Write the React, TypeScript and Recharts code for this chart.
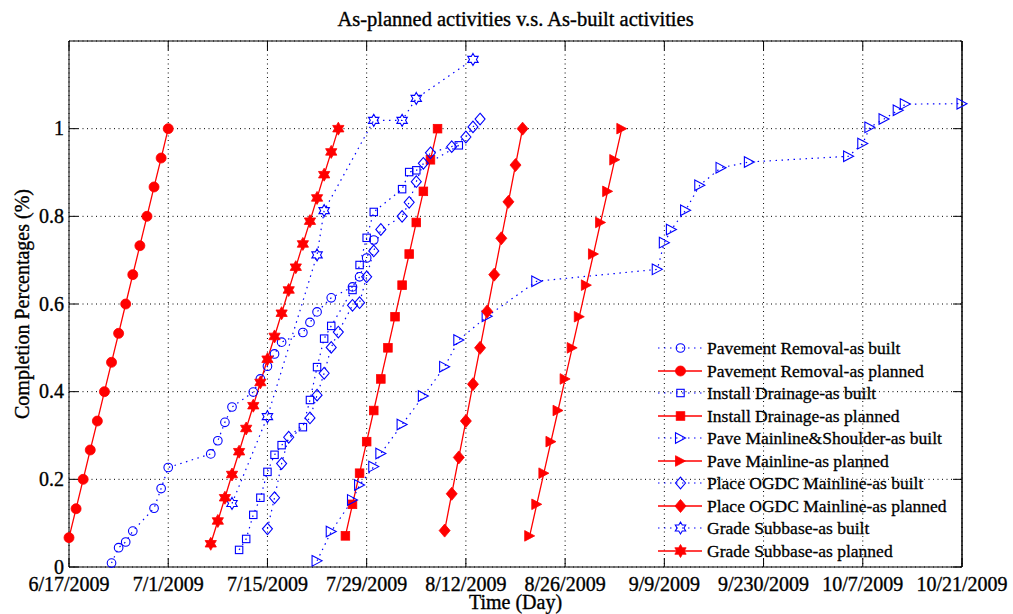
import { LineChart, Line, XAxis, YAxis, CartesianGrid, Legend } from "recharts"

const W = 1013
const H = 614
const MARGIN = { top: 11, right: 50, bottom: 7, left: 9 }
const Y_AXIS_W = 60
const X_AXIS_H = 40
const TOP_AXIS_H = 30
const PLOT_LEFT = MARGIN.left + Y_AXIS_W
const PLOT_RIGHT = W - MARGIN.right - 1
const PLOT_TOP = MARGIN.top + TOP_AXIS_H
const PLOT_BOTTOM = H - MARGIN.bottom - X_AXIS_H

const FONT = '"Liberation Serif", "Times New Roman", Times, serif'
const BLUE = "#0000ff"
const RED = "#ff0000"
// a hairline outline gives the serif text a little more weight
const TEXT_WEIGHT = { stroke: "#000", strokeWidth: 0.35 }

const TITLE = "As-planned activities v.s. As-built activities"

// x values are days counted from 6/17/2009
const dayTicks = [0, 14, 28, 42, 56, 70, 84, 98, 112, 126]
const dayLabels = [
  "6/17/2009",
  "7/1/2009",
  "7/15/2009",
  "7/29/2009",
  "8/12/2009",
  "8/26/2009",
  "9/9/2009",
  "9/230/2009",
  "10/7/2009",
  "10/21/2009",
]
const pctTicks = [0, 0.2, 0.4, 0.6, 0.8, 1]
const pctLabels = ["0", "0.2", "0.4", "0.6", "0.8", "1"]

// Pavement Removal
const pavementBuiltDays = [6, 7, 8, 9, 12, 13, 14, 20, 21, 22, 23, 26, 27, 28, 29, 30, 33, 34, 35, 37, 40, 41, 42, 43]
const pavementBuilt = [0.009, 0.044, 0.057, 0.082, 0.134, 0.179, 0.227, 0.258, 0.288, 0.33, 0.365, 0.399, 0.429, 0.458, 0.486, 0.513, 0.535, 0.558, 0.582, 0.614, 0.639, 0.662, 0.705, 0.746]
const pavementPlanDays = [0, 1, 2, 3, 4, 5, 6, 7, 8, 9, 10, 11, 12, 13, 14]
const pavementPlan = [0.067, 0.133, 0.2, 0.267, 0.333, 0.4, 0.467, 0.533, 0.6, 0.667, 0.733, 0.8, 0.867, 0.933, 1]

// Install Drainage
const drainageBuiltDays = [24, 25, 26, 27, 28, 29, 30, 33, 34, 35, 36, 37, 40, 41, 42, 43, 47, 48, 49, 55]
const drainageBuilt = [0.039, 0.064, 0.119, 0.158, 0.217, 0.256, 0.278, 0.319, 0.381, 0.456, 0.521, 0.55, 0.632, 0.689, 0.751, 0.81, 0.862, 0.901, 0.905, 0.962]
const drainagePlanDays = [39, 40, 41, 42, 43, 44, 45, 46, 47, 48, 49, 50, 51, 52]
const drainagePlan = [0.071, 0.143, 0.214, 0.286, 0.357, 0.429, 0.5, 0.571, 0.643, 0.714, 0.786, 0.857, 0.929, 1]

// Pave Mainline (& Shoulder)
const paveBuiltDays = [35, 37, 40, 41, 43, 44, 47, 50, 53, 55, 59, 66, 83, 84, 85, 87, 89, 92, 96, 110, 112, 113, 115, 117, 118, 126]
const paveBuilt = [0.014, 0.081, 0.153, 0.187, 0.229, 0.259, 0.325, 0.39, 0.457, 0.518, 0.572, 0.652, 0.679, 0.74, 0.77, 0.814, 0.871, 0.911, 0.924, 0.937, 0.966, 1.003, 1.022, 1.042, 1.056, 1.057]
const pavePlanDays = [65, 66, 67, 68, 69, 70, 71, 72, 73, 74, 75, 76, 77, 78]
const pavePlan = [0.071, 0.143, 0.214, 0.286, 0.357, 0.429, 0.5, 0.571, 0.643, 0.714, 0.786, 0.857, 0.929, 1]

// Place OGDC Mainline
const ogdcBuiltDays = [28, 29, 30, 31, 34, 35, 36, 37, 38, 40, 41, 42, 43, 44, 47, 48, 49, 50, 51, 54, 56, 57, 58]
const ogdcBuilt = [0.087, 0.158, 0.236, 0.296, 0.34, 0.392, 0.442, 0.501, 0.536, 0.597, 0.603, 0.662, 0.721, 0.77, 0.8, 0.832, 0.879, 0.921, 0.945, 0.959, 0.981, 1.004, 1.022]
const ogdcPlanDays = [53, 54, 55, 56, 57, 58, 59, 60, 61, 62, 63, 64]
const ogdcPlan = [0.083, 0.167, 0.25, 0.333, 0.417, 0.5, 0.583, 0.667, 0.75, 0.833, 0.917, 1]

// Grade Subbase
const subbaseBuiltDays = [23, 28, 35, 36, 43, 47, 49, 57]
const subbaseBuilt = [0.145, 0.343, 0.712, 0.813, 1.019, 1.019, 1.069, 1.158]
const subbasePlanDays = [20, 21, 22, 23, 24, 25, 26, 27, 28, 29, 30, 31, 32, 33, 34, 35, 36, 37, 38]
const subbasePlan = [0.053, 0.105, 0.158, 0.211, 0.263, 0.316, 0.368, 0.421, 0.474, 0.526, 0.579, 0.632, 0.684, 0.737, 0.789, 0.842, 0.895, 0.947, 1]

type Shape = "circle" | "square" | "triangle" | "diamond" | "hexagram"

const toPoints = (days: number[], vals: number[]) => days.map((day, i) => ({ day, v: vals[i] }))

const series = [
  { name: "Pavement Removal-as built", data: toPoints(pavementBuiltDays, pavementBuilt), shape: "circle", planned: false },
  { name: "Pavement Removal-as planned", data: toPoints(pavementPlanDays, pavementPlan), shape: "circle", planned: true },
  { name: "Install Drainage-as built", data: toPoints(drainageBuiltDays, drainageBuilt), shape: "square", planned: false },
  { name: "Install Drainage-as planned", data: toPoints(drainagePlanDays, drainagePlan), shape: "square", planned: true },
  { name: "Pave Mainline&Shoulder-as built", data: toPoints(paveBuiltDays, paveBuilt), shape: "triangle", planned: false },
  { name: "Pave Mainline-as planned", data: toPoints(pavePlanDays, pavePlan), shape: "triangle", planned: true },
  { name: "Place OGDC Mainline-as built", data: toPoints(ogdcBuiltDays, ogdcBuilt), shape: "diamond", planned: false },
  { name: "Place OGDC Mainline-as planned", data: toPoints(ogdcPlanDays, ogdcPlan), shape: "diamond", planned: true },
  { name: "Grade Subbase-as built", data: toPoints(subbaseBuiltDays, subbaseBuilt), shape: "hexagram", planned: false },
  { name: "Grade Subbase-as planned", data: toPoints(subbasePlanDays, subbasePlan), shape: "hexagram", planned: true },
] as { name: string; data: { day: number; v: number }[]; shape: Shape; planned: boolean }[]

// planned = filled red marker on a solid line, built = open blue marker on a dotted line
function Marker({ cx, cy, shape, filled }: { cx: number; cy: number; shape: Shape; filled: boolean }) {
  const color = filled ? RED : BLUE
  const common = {
    fill: filled ? color : "none",
    stroke: color,
    strokeWidth: filled ? 0.8 : 1.1,
  }
  if (cx == null || cy == null) return null

  if (shape === "circle") {
    return <circle cx={cx} cy={cy} r={filled ? 5 : 4.3} {...common} />
  }
  if (shape === "square") {
    const s = filled ? 4.3 : 3.7
    return <rect x={cx - s} y={cy - s} width={s * 2} height={s * 2} {...common} />
  }
  if (shape === "diamond") {
    const w = filled ? 5.5 : 5
    const h = filled ? 6.5 : 5.8
    return <polygon points={`${cx},${cy - h} ${cx + w},${cy} ${cx},${cy + h} ${cx - w},${cy}`} {...common} />
  }
  if (shape === "triangle") {
    return (
      <polygon
        points={`${cx - 5},${cy - 5.3} ${cx + 5},${cy} ${cx - 5},${cy + 5.3}`}
        {...common}
      />
    )
  }
  // six-pointed star
  const R = filled ? 6.5 : 6
  const r = R / Math.sqrt(3)
  const pts: string[] = []
  for (let k = 0; k < 12; k++) {
    const a = (-90 + k * 30) * (Math.PI / 180)
    const rad = k % 2 === 0 ? R : r
    pts.push(`${cx + rad * Math.cos(a)},${cy + rad * Math.sin(a)}`)
  }
  return <polygon points={pts.join(" ")} {...common} />
}

// tick marks point into the plot on both sides of the box, MATLAB style
function DayTick(props: any) {
  const { x, payload } = props
  const label = dayLabels[dayTicks.indexOf(payload.value)]
  return (
    <g>
      <line x1={x} x2={x} y1={PLOT_BOTTOM} y2={PLOT_BOTTOM - 9} stroke="#000" />
      <line x1={x} x2={x} y1={PLOT_TOP} y2={PLOT_TOP + 9} stroke="#000" />
      <text x={x} y={PLOT_BOTTOM + 24} textAnchor="middle" fontFamily={FONT} fontSize={20} fill="#000" {...TEXT_WEIGHT}>
        {label}
      </text>
    </g>
  )
}

function PctTick(props: any) {
  const { y, payload } = props
  const label = pctLabels[pctTicks.indexOf(payload.value)]
  return (
    <g>
      <line x1={PLOT_LEFT} x2={PLOT_LEFT + 9} y1={y} y2={y} stroke="#000" />
      <line x1={PLOT_RIGHT - 9} x2={PLOT_RIGHT} y1={y} y2={y} stroke="#000" />
      <text x={PLOT_LEFT - 5} y={y + 6.5} textAnchor="end" fontFamily={FONT} fontSize={20} fill="#000" {...TEXT_WEIGHT}>
        {label}
      </text>
    </g>
  )
}

function YTitle(props: any) {
  const { viewBox } = props
  const cy = viewBox.y + viewBox.height / 2
  const x = 29
  return (
    <text
      x={x}
      y={cy}
      transform={`rotate(-90, ${x}, ${cy})`}
      textAnchor="middle"
      fontFamily={FONT}
      fontSize={20}
      fill="#000"
      {...TEXT_WEIGHT}
    >
      Completion Percentages (%)
    </text>
  )
}

function LegendList() {
  return (
    <div style={{ fontFamily: FONT, fontSize: 17.5, color: "#000", WebkitTextStroke: "0.3px #000" }}>
      {series.map((s) => (
        <div key={s.name} style={{ display: "flex", alignItems: "center", height: 22.5 }}>
          <svg width={49} height={22} style={{ flex: "none", overflow: "visible" }}>
            <line
              x1={0}
              x2={44}
              y1={11}
              y2={11}
              stroke={s.planned ? RED : BLUE}
              strokeWidth={s.planned ? 1.3 : 1.2}
              strokeDasharray={s.planned ? undefined : "1.5 4.5"}
            />
            <Marker cx={22.5} cy={11} shape={s.shape} filled={s.planned} />
          </svg>
          <span style={{ whiteSpace: "nowrap", lineHeight: "22.5px" }}>{s.name}</span>
        </div>
      ))}
    </div>
  )
}

export default function App() {
  return (
    <div style={{ position: "absolute", left: 0, top: 0, background: "#fff" }}>
      <LineChart width={W} height={H} margin={MARGIN}>
        <CartesianGrid stroke="#000" strokeWidth={1} strokeDasharray="1 3.5" />
        <XAxis
          type="number"
          dataKey="day"
          domain={[0, 126]}
          ticks={dayTicks}
          interval={0}
          height={X_AXIS_H}
          tick={DayTick}
          tickLine={false}
          axisLine={{ stroke: "#000" }}
          label={{ value: "Time (Day)", position: "insideBottom", offset: -2, fontFamily: FONT, fontSize: 20, fill: "#000", ...TEXT_WEIGHT }}
        />
        <XAxis
          xAxisId="top"
          orientation="top"
          type="number"
          domain={[0, 126]}
          height={TOP_AXIS_H}
          tick={false}
          tickLine={false}
          axisLine={{ stroke: "#000" }}
          label={{ value: TITLE, position: "insideBottom", offset: 15, fontFamily: FONT, fontSize: 20.5, fill: "#000", ...TEXT_WEIGHT }}
        />
        <YAxis
          type="number"
          domain={[0, 1.2]}
          ticks={pctTicks}
          interval={0}
          width={Y_AXIS_W}
          tick={PctTick}
          tickLine={false}
          axisLine={{ stroke: "#000" }}
          label={YTitle}
        />
        <YAxis
          yAxisId="right"
          orientation="right"
          type="number"
          domain={[0, 1.2]}
          width={1}
          tick={false}
          tickLine={false}
          axisLine={{ stroke: "#000", strokeWidth: 1.5 }}
        />
        <Legend
          layout="vertical"
          align="center"
          verticalAlign="middle"
          wrapperStyle={{ left: 658, top: 337, width: 320 }}
          content={() => <LegendList />}
        />
        {series.map((s) => (
          <Line
            key={s.name}
            name={s.name}
            data={s.data}
            dataKey="v"
            type="linear"
            stroke={s.planned ? RED : BLUE}
            strokeWidth={s.planned ? 1.3 : 1.2}
            strokeDasharray={s.planned ? undefined : "1.5 4.5"}
            isAnimationActive={false}
            activeDot={false}
            dot={(p: any) => <Marker key={`${s.name}-${p.index}`} cx={p.cx} cy={p.cy} shape={s.shape} filled={s.planned} />}
          />
        ))}
      </LineChart>
    </div>
  )
}
